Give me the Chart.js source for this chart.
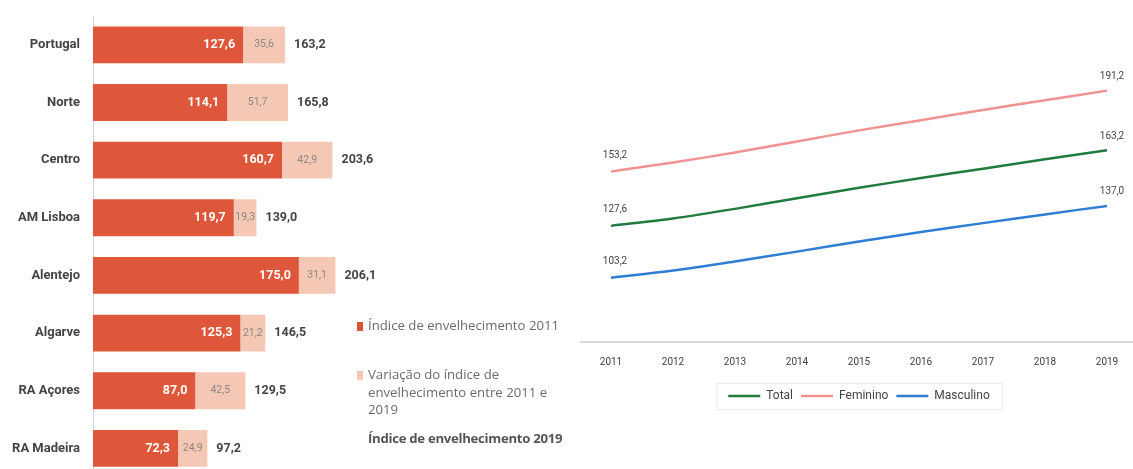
<!DOCTYPE html>
<html>
<head>
<meta charset="utf-8">
<script src="https://cdn.jsdelivr.net/npm/chart.js@4"></script>
<style>
	html, body { margin: 0; padding: 0; background: #fff; width: 1133px; height: 469px; overflow: hidden; position: relative; }
	#bars { position: absolute; left: 0; top: 0; }
	#lines { position: absolute; left: 580px; top: 0; }
	.leg { position: absolute; left: 368px; font-family: "Open Sans", sans-serif; font-size: 13.2px; line-height: 17.5px; color: #6b6b6b; }
	.sq { position: absolute; left: -11px; width: 6px; height: 9px; }
	.leg b { color: #555; font-weight: 700; letter-spacing: -0.3px; }
</style>
</head>
<body>
<canvas id="bars" width="380" height="485"></canvas>
<canvas id="lines" width="558" height="469"></canvas>

<div class="leg" style="top:317px"><span class="sq" style="top:5px;background:#df573a"></span>Índice de envelhecimento 2011</div>
<div class="leg" style="top:366px"><span class="sq" style="top:5px;background:#f5c8b6"></span>Variação do índice de<br>envelhecimento entre 2011 e<br>2019</div>
<div class="leg" style="top:430px"><b>Índice de envelhecimento 2019</b></div>

<script>
// ---- dados: índice de envelhecimento por região
const regioes = ['Portugal', 'Norte', 'Centro', 'AM Lisboa', 'Alentejo', 'Algarve', 'RA Açores', 'RA Madeira'];
const indice2011 = [127.6, 114.1, 160.7, 119.7, 175.0, 125.3, 87.0, 72.3];
const variacao = [35.6, 51.7, 42.9, 19.3, 31.1, 21.2, 42.5, 24.9];
const indice2019 = [163.2, 165.8, 203.6, 139.0, 206.1, 146.5, 129.5, 97.2];

// ---- dados: evolução em Portugal por sexo
const anos = ['2011', '2012', '2013', '2014', '2015', '2016', '2017', '2018', '2019'];
const total = [127.6, 131.1, 135.6, 140.6, 145.5, 150.1, 154.5, 158.9, 163.2];
const feminino = [153.2, 157.4, 162.1, 167.3, 172.5, 177.3, 182.1, 186.7, 191.2];
const masculino = [103.2, 106.6, 110.9, 115.5, 120.3, 124.7, 128.9, 133.0, 137.0];

const fmt = v => v.toFixed(1).replace('.', ',');

// ==========================================================================================================

const barLabels = {
	id: 'barLabels',
	afterDatasetsDraw(chart) {
		const ctx = chart.ctx;
		const m0 = chart.getDatasetMeta(0);
		const m1 = chart.getDatasetMeta(1);
		ctx.save();
		ctx.textBaseline = 'middle';
		m0.data.forEach((bar, i) => {
			ctx.font = 'bold 12.5px Roboto';
			ctx.fillStyle = '#ffffff';
			ctx.textAlign = 'right';
			ctx.fillText(fmt(indice2011[i]), bar.x - 8, bar.y);
		});
		m1.data.forEach((bar, i) => {
			ctx.font = '10.5px Roboto';
			ctx.fillStyle = '#8f8580';
			ctx.textAlign = 'center';
			ctx.fillText(fmt(variacao[i]), (bar.x + bar.base) / 2, bar.y);
			ctx.font = 'bold 12.5px Roboto';
			ctx.fillStyle = '#444444';
			ctx.textAlign = 'left';
			ctx.fillText(fmt(indice2019[i]), bar.x + 9, bar.y);
		});
		ctx.restore();
	}
};

const barChart = new Chart(document.getElementById('bars'), {
	type: 'bar',
	data: {
		labels: regioes,
		datasets: [{
			label: 'Índice de envelhecimento 2011',
			data: indice2011,
			backgroundColor: '#df573a',
			barPercentage: 0.8,
			categoryPercentage: 0.8,
		}, {
			label: 'Variação do índice de envelhecimento entre 2011 e 2019',
			data: variacao,
			backgroundColor: '#f5c8b6',
			barPercentage: 0.8,
			categoryPercentage: 0.8,
		}]
	},
	options: {
		indexAxis: 'y',
		responsive: false,
		animation: false,
		layout: { padding: { top: 16, bottom: 0, left: 0, right: 0 } },
		scales: {
			x: { stacked: true, min: 0, max: 244, display: false },
			y: {
				stacked: true,
				// tick marks not drawn, their length only keeps labels off the axis
				grid: { display: false, drawTicks: true, tickLength: 13 },
				border: { display: true, color: '#cfd6de', width: 1 },
				ticks: { color: '#444', padding: 0, font: { family: 'Roboto', weight: 'bold', size: 13 } },
				afterFit: scale => { scale.width = 93; }
			}
		},
		plugins: {
			legend: { display: false },
			tooltip: { enabled: false }
		}
	},
	plugins: [barLabels]
});

// ==========================================================================================================

const lineLabels = {
	id: 'lineLabels',
	afterDatasetsDraw(chart) {
		const ctx = chart.ctx;
		ctx.save();
		ctx.font = '10px Roboto';
		ctx.fillStyle = '#444';
		ctx.textAlign = 'center';
		ctx.textBaseline = 'bottom';
		chart.data.datasets.forEach((ds, d) => {
			const pts = chart.getDatasetMeta(d).data;
			const first = pts[0], last = pts[pts.length - 1];
			ctx.fillText(fmt(ds.data[0]), first.x + 4, first.y - 11);
			ctx.fillText(fmt(ds.data[ds.data.length - 1]), last.x + 5, last.y - 9);
		});
		// moldura da legenda
		const hb = chart.legend.legendHitBoxes;
		if (hb && hb.length) {
			const l = Math.min(...hb.map(h => h.left)) - 12;
			const r = Math.max(...hb.map(h => h.left + h.width)) + 12;
			const t = hb[0].top - 7;
			const b = hb[0].top + hb[0].height + 7;
			ctx.strokeStyle = '#ececec';
			ctx.lineWidth = 1;
			ctx.strokeRect(l + 0.5, t + 0.5, r - l, b - t);
		}
		ctx.restore();
	}
};

const lineChart = new Chart(document.getElementById('lines'), {
	type: 'line',
	data: {
		labels: anos,
		datasets: [{
			label: 'Total',
			data: total,
			borderColor: '#217a3e',
			backgroundColor: '#217a3e',
			borderWidth: 2.5,
		}, {
			label: 'Feminino',
			data: feminino,
			borderColor: '#f09292',
			backgroundColor: '#f09292',
			borderWidth: 2.5,
		}, {
			label: 'Masculino',
			data: masculino,
			borderColor: '#2f7ed3',
			backgroundColor: '#2f7ed3',
			borderWidth: 2.5,
		}]
	},
	options: {
		responsive: false,
		animation: false,
		elements: { point: { radius: 0 }, line: { tension: 0.3 } },
		layout: { padding: { top: 40, bottom: 57, left: 0, right: 0 } },
		scales: {
			x: {
				offset: true,
				grid: { display: false, drawTicks: false },
				border: { display: true, color: '#d9d9d9', width: 2 },
				ticks: { color: '#404040', padding: 14, font: { family: 'Roboto', size: 10 } }
			},
			y: { display: false, min: 73, max: 215 }
		},
		plugins: {
			legend: {
				position: 'bottom',
				labels: {
					usePointStyle: true,
					pointStyle: 'line',
					pointStyleWidth: 32,
					color: '#444',
					padding: 8,
					font: { family: 'Roboto', size: 12 }
				}
			},
			tooltip: { enabled: false }
		}
	},
	plugins: [lineLabels]
});
</script>
</body>
</html>
